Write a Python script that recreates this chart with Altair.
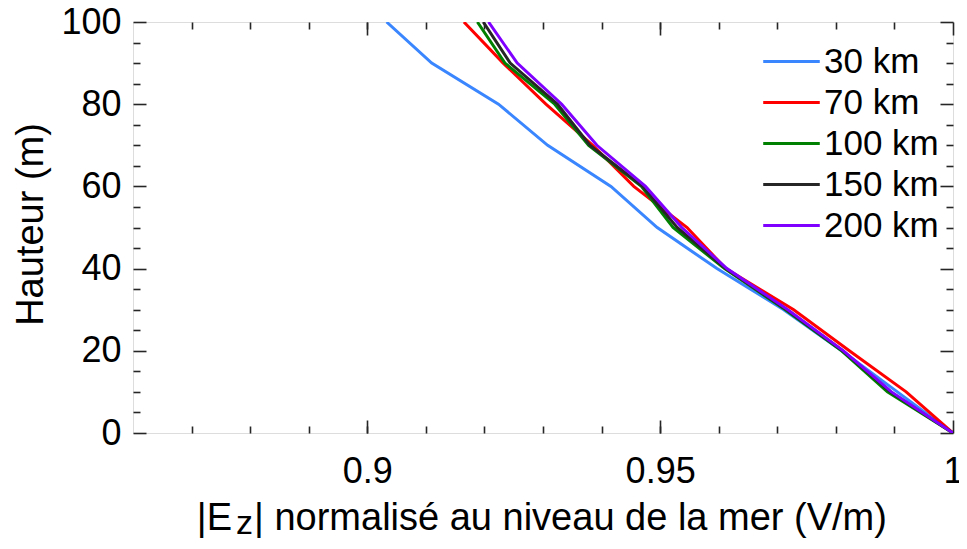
import altair as alt
import pandas as pd

heights = [0, 10, 20, 30, 40, 50, 60, 70, 80, 90, 100]
ez_30 = [1.0, 0.9905, 0.9810, 0.9711, 0.9597, 0.9495, 0.9416, 0.9308, 0.9224, 0.9110, 0.9033]
ez_70 = [1.0, 0.9920, 0.9823, 0.9728, 0.9612, 0.9546, 0.9455, 0.9385, 0.9305, 0.9232, 0.9165]
ez_100 = [1.0, 0.9888, 0.9810, 0.9714, 0.9610, 0.9522, 0.9468, 0.9378, 0.9320, 0.9235, 0.9188]
ez_150 = [1.0, 0.9893, 0.9812, 0.9716, 0.9612, 0.9529, 0.9470, 0.9380, 0.9325, 0.9244, 0.9198]
ez_200 = [1.0, 0.9895, 0.9813, 0.9718, 0.9614, 0.9537, 0.9475, 0.9392, 0.9332, 0.9256, 0.9207]

series_names = ["30 km", "70 km", "100 km", "150 km", "200 km"]
series_values = [ez_30, ez_70, ez_100, ez_150, ez_200]
series_colors = ["#3A86FF", "#FF0000", "#008000", "#262626", "#7F00FF"]

x_major = [0.9, 0.95, 1.0]
x_minor = [0.87, 0.88, 0.89, 0.9, 0.91, 0.92, 0.93, 0.94, 0.95, 0.96, 0.97, 0.98, 0.99]
y_major = [0, 20, 40, 60, 80, 100]
y_minor = [5, 10, 15, 25, 30, 35, 45, 50, 55, 65, 70, 75, 85, 90, 95]

x_title_parts = ["|E", "z", "| normalisé au niveau de la mer (V/m)"]
y_title = "Hauteur (m)"

rows = []
for name, vals in zip(series_names, series_values):
    for h, v in zip(heights, vals):
        rows.append({"series": name, "h": h, "ez": v})
df = pd.DataFrame(rows)

FONT = "Liberation Sans"
W, H = 820, 411
INK = "#262626"

x_scale = alt.Scale(domain=[0.86, 1.0], nice=False, zero=False)
y_scale = alt.Scale(domain=[0, 100], nice=False, zero=False)

base = alt.Chart(df)

lines = base.mark_line(strokeWidth=3, clip=True).encode(
    x=alt.X("ez:Q", scale=x_scale,
            axis=alt.Axis(orient="bottom", values=x_major, format="~g", ticks=False, tickSize=0,
                          domain=False, grid=False, labelFontSize=36, labelFont=FONT,
                          labelColor="#000000", labelPadding=21, labelFlush=False, title=None)),
    y=alt.Y("h:Q", scale=y_scale,
            axis=alt.Axis(orient="left", values=y_major, ticks=False, tickSize=0, domain=False,
                          grid=False, labelFontSize=36, labelFont=FONT, labelColor="#000000",
                          labelPadding=12, labelFlush=False, title=y_title, titleFontSize=38,
                          titleFont=FONT, titleFontWeight="normal", titleColor="#000000",
                          titleAngle=270, titleAlign="center", titleBaseline="alphabetic",
                          titleX=-91, titleY=202)),
    color=alt.Color("series:N", scale=alt.Scale(domain=series_names, range=series_colors),
                    legend=alt.Legend(orient="none", legendX=641, legendY=22, title=None,
                                      symbolType="M-5,0H5", symbolSize=128, symbolStrokeWidth=3,
                                      labelFontSize=35, labelFont=FONT, labelColor="#000000",
                                      rowPadding=5, padding=0, labelOffset=15)),
    order=alt.Order("h:Q"),
)


def tick_axis(orient, offset, values, size):
    return alt.Axis(orient=orient, offset=offset, values=values, tickSize=size, tickWidth=1.6,
                    tickColor=INK, labels=False, domain=False, grid=False, title=None)


def tick_layer(xa, ya):
    return base.mark_point(opacity=0).encode(
        x=alt.X("ez:Q", scale=x_scale, axis=xa),
        y=alt.Y("h:Q", scale=y_scale, axis=ya),
    )


ticks_a = tick_layer(tick_axis("top", -H, x_major, 13), tick_axis("right", -W, y_major, 13))
ticks_b = tick_layer(tick_axis("top", -H, x_minor, 7), tick_axis("right", -W, y_minor, 7))
ticks_c = tick_layer(tick_axis("bottom", -H, x_major, 13), tick_axis("left", -W, y_major, 13))
ticks_d = tick_layer(tick_axis("bottom", -H, x_minor, 7), tick_axis("left", -W, y_minor, 7))


def title_text(txt, xpos, ypos, align, size):
    return alt.Chart(pd.DataFrame({"t": [txt]})).mark_text(
        font=FONT, fontSize=size, color="#000000", align=align, baseline="alphabetic"
    ).encode(text="t:N", x=alt.value(xpos), y=alt.value(ypos))


t1 = title_text(x_title_parts[0], 99, 508, "right", 38)
t2 = title_text(x_title_parts[1], 103, 512, "left", 34)
t3 = title_text(x_title_parts[2], 121, 508, "left", 38)

chart = alt.layer(ticks_a, ticks_b, ticks_c, ticks_d, lines, t1, t2, t3).resolve_axis(
    x="independent", y="independent"
).properties(
    width=W, height=H,
    autosize=alt.AutoSizeParams(type="none"),
    padding={"left": 125, "top": 14, "right": 6, "bottom": 108},
).configure_view(stroke=INK, strokeWidth=2).configure(background="white")

chart.save("out.html", embed_options={"renderer": "svg", "actions": False})
